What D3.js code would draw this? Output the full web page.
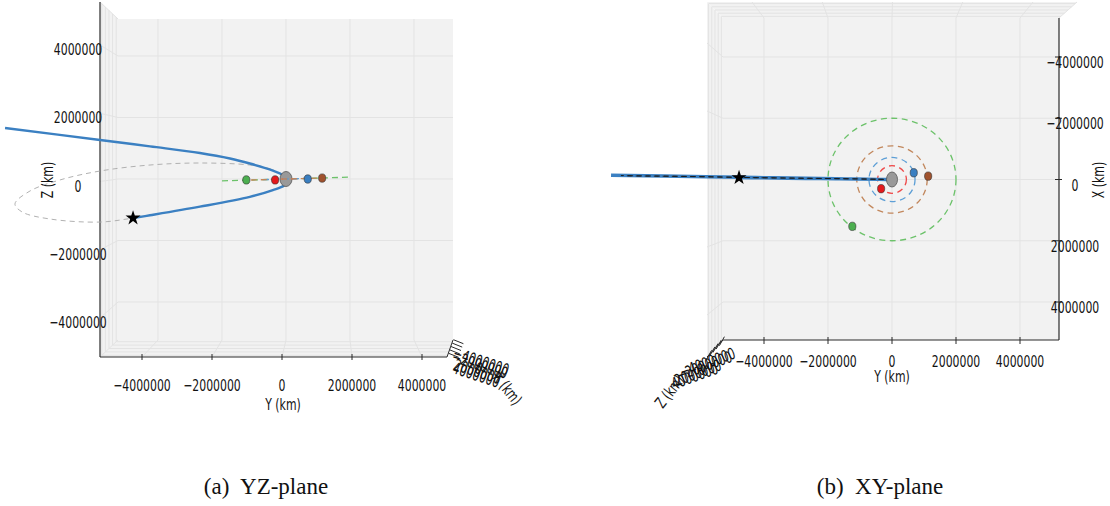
<!DOCTYPE html>
<html>
<head>
<meta charset="utf-8">
<script src="https://cdn.jsdelivr.net/npm/d3@7/dist/d3.min.js"></script>
<style>
    body { margin: 0; background: #fff; }
    svg { display: block; }
    .tick-label { font-family: "DejaVu Sans", sans-serif; font-size: 16px; fill: #111; }
    .caption { font-family: "Liberation Serif", "DejaVu Serif", serif; font-size: 23px; fill: #111; white-space: pre; }
</style>
</head>
<body>
<svg id="chart" width="1110" height="506"></svg>
<script>
// ============================================
// 데이터 (km)
// ============================================
const tickValues = [-4000000, -2000000, 0, 2000000, 4000000];
const tickLabels = ['\u22124000000', '\u22122000000', '0', '2000000', '4000000'];
const depthTickLabels = ['\u22124000000', '\u22122000000', '0', '2000000', '4000000'];
const captions = ['(a)  YZ-plane', '(b)  XY-plane'];

// spacecraft trajectory (burn point -> periapsis -> outbound)
const trajY = [-4780000, -4250000, -2690000, -1130000, -410000, -60000, 80000, -125000, -410000, -1130000, -1750000, -2690000, -4250000, -5810000, -8780000];
const trajZ = [-1270000, -1180000, -900000, -580000, -360000, -210000, -16000, 146000, 276000, 504000, 667000, 845000, 1060000, 1270000, 1660000];
const trajX = [-60000, -55000, -35000, -15000, -5000, 0, 0, 0, -5000, -15000, -25000, -40000, -65000, -90000, -140000];

// parking orbit (dashed ellipse)
const parkY = [80000, -500000, -1130000, -2690000, -4250000, -5810000, -7060000, -8000000, -8470000, -8250000, -7380000, -5810000, -4780000, -4250000, -2690000, -1130000, -410000, -60000];
const parkZ = [-16000, 330000, 455000, 520000, 455000, 260000, -30000, -390000, -810000, -1070000, -1300000, -1400000, -1270000, -1180000, -900000, -580000, -360000, -210000];
const parkX = [0, -10000, -20000, -40000, -60000, -90000, -110000, -120000, -130000, -120000, -110000, -90000, -70000, -60000, -40000, -20000, -5000, 0];

// burn point (star)
const burnY = -4780000;
const burnZ = -1270000;
const burnX = -60000;

// moons and their orbits
const moonY = [-1240000, -340000, 680000, 1130000];
const moonX = [1530000, 300000, -220000, -110000];
const moonZ = [-30000, -30000, 0, 30000];
const moonFill = ['#4caf50', '#e3191c', '#3a7fc1', '#a0522d'];
const orbitRadius = [2000000, 450000, 720000, 1100000];
const orbitStroke = ['#6cc26a', '#ee4a4a', '#5d9fd6', '#c2875c'];
const orbitEdgeZ = [-60000, 60000];   // Z of the orbit plane at Y = -2e6 / +2e6

const svg = d3.select('#chart');

const lerp = (a, b, t) => [a[0] + (b[0] - a[0]) * t, a[1] + (b[1] - a[1]) * t];
const depth = d3.scaleLinear().domain([-5000000, 5000000]).range([0, 1]);
const gridColor = '#e3e3e3';
const paneColor = '#f2f2f2';
const axisColor = '#2a2a2a';
const smooth = d3.curveCatmullRom.alpha(0.5);
const smoothClosed = d3.curveCatmullRomClosed.alpha(0.5);

function segment(g, p, q, color, width) {
    return g.append('line')
        .attr('x1', p[0]).attr('y1', p[1])
        .attr('x2', q[0]).attr('y2', q[1])
        .attr('stroke', color)
        .attr('stroke-width', width);
}

// 레이블은 좁은 글꼴처럼 보이도록 가로로 압축
function label(g, text, x, y, angle = 0) {
    return g.append('text')
        .attr('class', 'tick-label')
        .attr('text-anchor', 'middle')
        .attr('transform', `translate(${x},${y}) rotate(${angle}) scale(0.68,1)`)
        .text(text);
}

// ============================================
// (a) YZ-plane
// ============================================
const left = svg.append('g');

const lY = d3.scaleLinear().domain([-4000000, 4000000]).range([158, 414]);
const lZ = d3.scaleLinear().domain([-4000000, 4000000]).range([302, 56]);
const lYFront = d3.scaleLinear().domain([-4000000, 4000000]).range([142, 422]);
const lZFront = d3.scaleLinear().domain([-4000000, 4000000]).range([318, 45]);

// panes
const lb = {x0: 118, x1: 453, y0: 19, y1: 340};
const lf = {tl: [100, 2], bl: [100, 357], br: [447, 357]};
left.append('rect')
    .attr('x', lb.x0).attr('y', lb.y0)
    .attr('width', lb.x1 - lb.x0).attr('height', lb.y1 - lb.y0)
    .attr('fill', paneColor);
left.append('polygon')
    .attr('points', [[lb.x0, lb.y0], lf.tl, lf.bl, [lb.x0, lb.y1]].join(' '))
    .attr('fill', paneColor);
left.append('polygon')
    .attr('points', [[lb.x0, lb.y1], [lb.x1, lb.y1], lf.br, lf.bl].join(' '))
    .attr('fill', paneColor);

// grid lines
tickValues.forEach(v => {
    segment(left, [lY(v), lb.y0], [lY(v), lb.y1], gridColor, 1);
    segment(left, [lb.x0, lZ(v)], [lb.x1, lZ(v)], gridColor, 1);
    segment(left, [lY(v), lb.y1], [lYFront(v), lf.bl[1]], gridColor, 1);
    segment(left, [lb.x0, lZ(v)], [lf.tl[0], lZFront(v)], gridColor, 1);
    const t = depth(v);
    const top = lerp([lb.x0, lb.y0], lf.tl, t);
    const bot = lerp([lb.x0, lb.y1], lf.bl, t);
    const rgt = lerp([lb.x1, lb.y1], lf.br, t);
    segment(left, top, bot, gridColor, 1);
    segment(left, bot, rgt, gridColor, 1);
});
segment(left, [lb.x0, lb.y0], lf.tl, gridColor, 1);
segment(left, [lb.x0, lb.y1], lf.bl, gridColor, 1);

// axes
segment(left, lf.tl, lf.bl, axisColor, 1.2);
segment(left, lf.bl, lf.br, axisColor, 1.2);
segment(left, [lb.x1, lb.y1], lf.br, axisColor, 1);
tickValues.forEach(v => {
    segment(left, [lYFront(v), 354], [lYFront(v), 360], axisColor, 1);
    const p = lerp([lb.x1, lb.y1], lf.br, depth(v));
    segment(left, [p[0] + 1, p[1] - 2], [p[0] + 11, p[1] + 2], axisColor, 1);
});

tickValues.forEach((v, i) => {
    label(left, tickLabels[i], lYFront(v), 391);
    label(left, tickLabels[i], 78, lZFront(v) + 10);
});

label(left, 'Y (km)', 283, 410);
label(left, 'Z (km)', 53, 180, -90);

// depth (X) axis labels, overlapping
depthTickLabels.forEach((txt, i) => {
    const p = lerp([lb.x1, lb.y1], lf.br, depth(tickValues[i]));
    label(left, txt, p[0] + 27, p[1] + 25, 18);
});
label(left, 'X (km)', 503, 392, 52);

// parking orbit
const lPark = parkY.map((y, i) => [lY(y), lZ(parkZ[i])]);
left.append('path')
    .attr('d', d3.line().curve(smoothClosed)(lPark))
    .attr('fill', 'none')
    .attr('stroke', '#a8a8a8')
    .attr('stroke-width', 0.9)
    .attr('stroke-dasharray', '5,4');

// trajectory
const lTraj = trajY.map((y, i) => [lY(y), lZ(trajZ[i])]);
left.append('path')
    .attr('d', d3.line().curve(smooth)(lTraj))
    .attr('fill', 'none')
    .attr('stroke', '#3b80c2')
    .attr('stroke-width', 2.4);

// planet
left.append('ellipse')
    .attr('cx', lY(0)).attr('cy', lZ(0))
    .attr('rx', 6).attr('ry', 7.5)
    .attr('fill', '#999')
    .attr('stroke', '#555')
    .attr('stroke-width', 0.8);

// moon orbits seen edge-on
orbitRadius.forEach((r, i) => {
    const k = r / 2000000;
    segment(left, [lY(-r), lZ(orbitEdgeZ[0] * k)], [lY(r), lZ(orbitEdgeZ[1] * k)], orbitStroke[i], 1.3)
        .attr('stroke-dasharray', '6,4');
});

// moons
left.selectAll('.moon')
    .data(moonY)
    .enter().append('ellipse')
    .attr('cx', d => lY(d))
    .attr('cy', (d, i) => lZ(moonZ[i]))
    .attr('rx', 3.6).attr('ry', 4.2)
    .attr('fill', (d, i) => moonFill[i])
    .attr('stroke', '#333')
    .attr('stroke-width', 0.6);

// burn point
left.append('path')
    .attr('d', d3.symbol(d3.symbolStar).size(70)())
    .attr('transform', `translate(${lY(burnY)},${lZ(burnZ)})`)
    .attr('fill', '#000');

// ============================================
// (b) XY-plane
// ============================================
const right = svg.append('g');

const rY = d3.scaleLinear().domain([-4000000, 4000000]).range([764, 1020]);
const rX = d3.scaleLinear().domain([-4000000, 4000000]).range([57, 302]);
const rYFront = d3.scaleLinear().domain([-4000000, 4000000]).range([752, 1033]);
const rXFront = d3.scaleLinear().domain([-4000000, 4000000]).range([43, 315]);

const rb = {x0: 723, x1: 1059, y0: 18, y1: 340};
const rf = {tl: [707, 2], tr: [1077, 2], bl: [707, 357]};

right.append('rect')
    .attr('x', rb.x0).attr('y', rb.y0)
    .attr('width', rb.x1 - rb.x0).attr('height', rb.y1 - rb.y0)
    .attr('fill', paneColor);
right.append('polygon')
    .attr('points', [[rb.x0, rb.y0], [rb.x1, rb.y0], rf.tr, rf.tl].join(' '))
    .attr('fill', paneColor);
right.append('polygon')
    .attr('points', [[rb.x0, rb.y0], rf.tl, rf.bl, [rb.x0, rb.y1]].join(' '))
    .attr('fill', paneColor);

tickValues.forEach(v => {
    segment(right, [rY(v), rb.y0], [rY(v), rb.y1], gridColor, 1);
    segment(right, [rb.x0, rX(v)], [rb.x1, rX(v)], gridColor, 1);
    segment(right, [rY(v), rb.y0], [rYFront(v), rf.tl[1]], gridColor, 1);
    segment(right, [rb.x0, rX(v)], [rf.tl[0], rXFront(v)], gridColor, 1);
    const t = depth(v);
    const a = lerp([rb.x0, rb.y0], rf.tl, t);
    const b = lerp([rb.x1, rb.y0], rf.tr, t);
    const c = lerp([rb.x0, rb.y1], rf.bl, t);
    segment(right, a, b, gridColor, 1);
    segment(right, a, c, gridColor, 1);
});
segment(right, [rb.x1, rb.y0], rf.tr, gridColor, 1);

// axes
segment(right, [rb.x1, rb.y0], [rb.x1, rb.y1], axisColor, 1.2);
segment(right, [rb.x0, rb.y1], [rb.x1, rb.y1], axisColor, 1.2);
segment(right, [rb.x0, rb.y1], rf.bl, axisColor, 1);
tickValues.forEach(v => {
    segment(right, [rY(v), rb.y1 - 3], [rY(v), rb.y1 + 4], axisColor, 1);
    segment(right, [rb.x1 - 4, rX(v)], [rb.x1 + 3, rX(v)], axisColor, 1);
    const p = lerp([rb.x0, rb.y1], rf.bl, depth(v));
    segment(right, [p[0] - 2, p[1] + 4], [p[0] + 3, p[1] - 5], axisColor, 1);
});

tickValues.forEach((v, i) => {
    label(right, tickLabels[i], rY(v), 367);
    label(right, tickLabels[i], 1075, rX(v) + 11);
});

label(right, 'Y (km)', 892, 382);
label(right, 'X (km)', 1104, 180, -90);

depthTickLabels.forEach((txt, i) => {
    const p = lerp([rb.x0, rb.y1], rf.bl, depth(tickValues[i]));
    label(right, txt, p[0] - 12, p[1] + 26, -20);
});
label(right, 'Z (km)', 674, 395, -52);

// moon orbits
right.selectAll('.orbit')
    .data(orbitRadius)
    .enter().append('ellipse')
    .attr('cx', rY(0)).attr('cy', rX(0))
    .attr('rx', d => rY(d) - rY(0))
    .attr('ry', d => rX(d) - rX(0))
    .attr('fill', 'none')
    .attr('stroke', (d, i) => orbitStroke[i])
    .attr('stroke-width', 1.3)
    .attr('stroke-dasharray', '6,4.5');

// trajectory
const rTraj = trajY.map((y, i) => [rY(y), rX(trajX[i])]);
right.append('path')
    .attr('d', d3.line().curve(smooth)(rTraj))
    .attr('fill', 'none')
    .attr('stroke', '#3b80c2')
    .attr('stroke-width', 3.4);

// parking orbit seen edge-on
const rPark = parkY.map((y, i) => [rY(y), rX(parkX[i])]);
right.append('path')
    .attr('d', d3.line().curve(smoothClosed)(rPark))
    .attr('fill', 'none')
    .attr('stroke', '#1a1a1a')
    .attr('stroke-width', 0.9)
    .attr('stroke-dasharray', '5,4');

// planet
right.append('ellipse')
    .attr('cx', rY(0)).attr('cy', rX(0))
    .attr('rx', 5.5).attr('ry', 7.5)
    .attr('fill', '#999')
    .attr('stroke', '#555')
    .attr('stroke-width', 0.8);

right.selectAll('.moon')
    .data(moonY)
    .enter().append('ellipse')
    .attr('cx', d => rY(d))
    .attr('cy', (d, i) => rX(moonX[i]))
    .attr('rx', 3.6).attr('ry', 4.2)
    .attr('fill', (d, i) => moonFill[i])
    .attr('stroke', '#333')
    .attr('stroke-width', 0.6);

right.append('path')
    .attr('d', d3.symbol(d3.symbolStar).size(70)())
    .attr('transform', `translate(${rY(burnY)},${rX(burnX)})`)
    .attr('fill', '#000');

// ============================================
// captions
// ============================================
svg.selectAll('.caption')
    .data(captions)
    .enter().append('text')
    .attr('class', 'caption')
    .attr('x', (d, i) => i === 0 ? 266 : 880)
    .attr('y', 494)
    .attr('text-anchor', 'middle')
    .text(d => d);
</script>
</body>
</html>
